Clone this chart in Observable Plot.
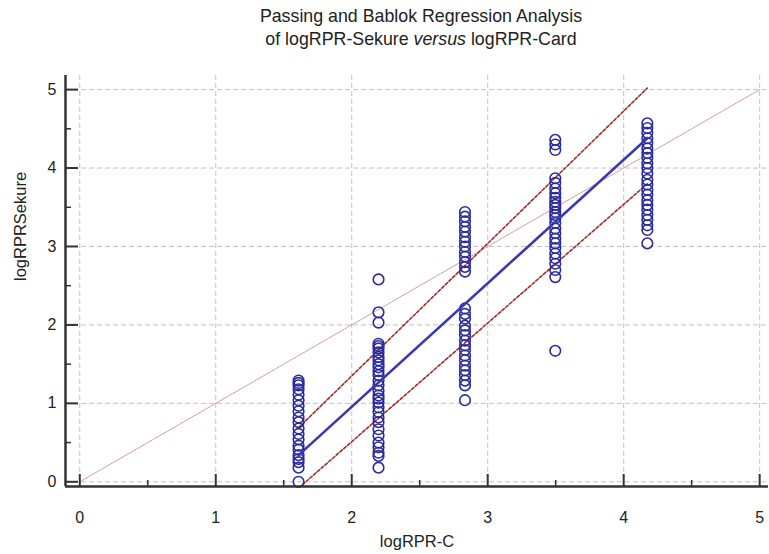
<!DOCTYPE html>
<html>
<head>
<meta charset="utf-8">
<script src="https://cdn.jsdelivr.net/npm/d3@7"></script>
<script src="https://cdn.jsdelivr.net/npm/@observablehq/plot@0.6"></script>
<style>
  body { margin: 0; background: #fff; font-family: "Liberation Sans", Arial, sans-serif; }
  #wrap { width: 769px; height: 554px; position: relative; overflow: hidden; }
  #title { position: absolute; left: 0; top: 5px; width: 842px; text-align: center; font-size: 17.8px; line-height: 23px; color: #222; }
  #chart { position: absolute; left: 0; top: 60px; }
</style>
</head>
<body>
<div id="wrap">
  <div id="title">Passing and Bablok Regression Analysis<br>of logRPR-Sekure <i>versus</i> logRPR-Card</div>
  <div id="chart"></div>
</div>
<script>
// x categories (logRPR-C values of the five columns)
const xLevels = [1.609, 2.197, 2.833, 3.497, 4.174];
// logRPRSekure values per column
const col1 = [1.29, 1.26, 1.23, 1.18, 1.11, 1.04, 0.97, 0.90, 0.82, 0.76, 0.68, 0.61, 0.54, 0.46, 0.41, 0.34, 0.29, 0.25, 0.18, 0.00];
const col2 = [2.58, 2.16, 2.03, 1.76, 1.73, 1.70, 1.65, 1.59, 1.55, 1.50, 1.46, 1.41, 1.36, 1.29, 1.23, 1.16, 1.10, 1.06, 1.01, 0.95, 0.89, 0.82, 0.76, 0.67, 0.59, 0.50, 0.44, 0.37, 0.33, 0.18];
const col3 = [3.44, 3.38, 3.32, 3.25, 3.19, 3.12, 3.06, 3.00, 2.93, 2.87, 2.80, 2.74, 2.68, 2.21, 2.14, 2.08, 1.99, 1.93, 1.87, 1.80, 1.74, 1.68, 1.61, 1.55, 1.48, 1.42, 1.36, 1.29, 1.23, 1.04];
const col4 = [4.36, 4.30, 4.23, 3.87, 3.81, 3.74, 3.68, 3.62, 3.57, 3.53, 3.49, 3.44, 3.40, 3.36, 3.30, 3.23, 3.17, 3.10, 3.04, 2.98, 2.91, 2.85, 2.78, 2.70, 2.61, 1.67];
const col5 = [4.57, 4.51, 4.45, 4.38, 4.32, 4.25, 4.19, 4.13, 4.06, 4.00, 3.93, 3.85, 3.79, 3.72, 3.66, 3.59, 3.53, 3.47, 3.40, 3.34, 3.27, 3.21, 3.04];
const columns = [col1, col2, col3, col4, col5];

// fitted lines (endpoints)
const lineX = [1.609, 4.174];
const regY = [0.34, 4.38];
const ciUpperY = [0.69, 5.02];
const ciLowerY = [-0.08, 3.80];
const identity = [0, 5];

// axis ticks and labels
const majorTicks = [0, 1, 2, 3, 4, 5];
const minorTicks = [0.5, 1.5, 2.5, 3.5, 4.5];
const xLabel = "logRPR-C";
const yLabel = "logRPRSekure";

const points = columns.flatMap((col, i) => col.map(v => ({x: xLevels[i], y: v})));
const reg = lineX.map((x, i) => ({x, y: regY[i]}));
const ciU = lineX.map((x, i) => ({x, y: ciUpperY[i]}));
const ciL = lineX.map((x, i) => ({x, y: ciLowerY[i]}));
const idl = identity.map(v => ({x: v, y: v}));

const W = 769, H = 494, mL = 65, mR = 1, mT = 15, mB = 68;
const plotW = W - mL - mR, plotH = H - mT - mB;
const axisColor = "#333";

const chart = Plot.plot({
  width: W, height: H,
  marginLeft: mL, marginRight: mR, marginTop: mT, marginBottom: mB,
  style: {fontFamily: "'Liberation Sans', Arial, sans-serif", fontSize: "16px", color: "#222", background: "#fff"},
  x: {domain: [-0.105, 5.065]},
  y: {domain: [-0.06, 5.18]},
  marks: [
    Plot.gridX(majorTicks, {stroke: "#888", strokeOpacity: 0.5, strokeDasharray: "5,3"}),
    Plot.gridY(majorTicks, {stroke: "#888", strokeOpacity: 0.5, strokeDasharray: "5,3"}),
    Plot.line(idl, {x: "x", y: "y", stroke: "#c98a8a", strokeWidth: 0.9, strokeDasharray: "2,1"}),
    Plot.line(ciU, {x: "x", y: "y", stroke: "#a42a2a", strokeWidth: 1.6, strokeDasharray: "3,2", clip: true}),
    Plot.line(ciL, {x: "x", y: "y", stroke: "#a42a2a", strokeWidth: 1.6, strokeDasharray: "3,2", clip: true}),
    Plot.dot(points, {x: "x", y: "y", r: 5.3, stroke: "#2b2b9c", strokeWidth: 1.6, fill: "none"}),
    Plot.line(reg, {x: "x", y: "y", stroke: "#3a3ab0", strokeWidth: 2.6}),
    // axis lines
    Plot.ruleX([-0.105], {stroke: axisColor, strokeWidth: 2.5}),
    Plot.ruleY([-0.06], {stroke: axisColor, strokeWidth: 2.5}),
    // inward ticks
    Plot.tickX(majorTicks, {x: d => d, stroke: axisColor, strokeWidth: 2, insetTop: plotH - 12}),
    Plot.tickX(minorTicks, {x: d => d, stroke: axisColor, strokeWidth: 1.5, insetTop: plotH - 6}),
    Plot.tickY(majorTicks, {y: d => d, stroke: axisColor, strokeWidth: 2, insetRight: plotW - 13}),
    Plot.tickY(minorTicks, {y: d => d, stroke: axisColor, strokeWidth: 1.5, insetRight: plotW - 6}),
    Plot.axisX(majorTicks, {tickSize: 0, tickPadding: 25, fontSize: 16, tickFormat: d => String(d), label: null}),
    Plot.axisY(majorTicks, {tickSize: 0, tickPadding: 9, fontSize: 16, tickFormat: d => String(d), label: null}),
    Plot.text([xLabel], {frameAnchor: "bottom", lineAnchor: "middle", text: d => d, dy: 55, fontSize: 16.5, fill: "#222"}),
    Plot.text([yLabel], {frameAnchor: "left", text: d => d, dx: -45, rotate: -90, fontSize: 16.5, fill: "#222"})
  ]
});
document.getElementById("chart").appendChild(chart);
</script>
</body>
</html>
